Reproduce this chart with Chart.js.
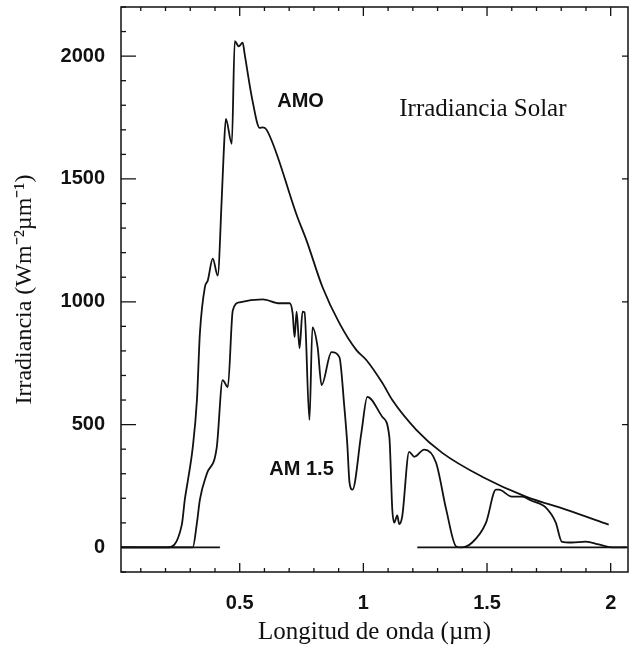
<!DOCTYPE html>
<html>
<head>
  <title>Irradiancia Solar</title>
  <script src="https://cdn.jsdelivr.net/npm/chart.js"></script>
  <style>
    body { margin: 0; background: #fff; }
    #solar-chart { display: block; }
  </style>
</head>
<body>
  <canvas id="solar-chart" width="631" height="651"></canvas>
  <script>
    // Wavelength (um) and irradiance (W m-2 um-1)
    const am0Wl = [0.02, 0.206, 0.266, 0.278, 0.29, 0.31, 0.327, 0.339, 0.359, 0.371, 0.391, 0.411,
      0.427, 0.435, 0.444, 0.468, 0.48, 0.496, 0.512, 0.52, 0.552, 0.581, 0.593, 0.609, 0.734,
      0.77, 0.835, 0.903, 0.972, 1.012, 1.077, 1.117, 1.214, 1.319, 1.48, 1.657, 1.819, 1.992];
    const am0Val = [0, 0, 93, 195, 270, 406, 600, 872, 1059, 1087, 1176, 1107,
      1412, 1600, 1744, 1643, 2061, 2040, 2055, 2008, 1817, 1708, 1710, 1700, 1343,
      1250, 1059, 913, 803, 763, 669, 600, 479, 385, 288, 207, 154, 93];

    const am15Wl = [0.02, 0.31, 0.327, 0.339, 0.367, 0.407, 0.431, 0.452, 0.472, 0.5, 0.593, 0.661,
      0.702, 0.714, 0.722, 0.73, 0.742, 0.754, 0.762, 0.782, 0.794, 0.815, 0.831, 0.871, 0.903,
      0.923, 0.935, 0.944, 0.956, 0.992, 1.016, 1.077, 1.105, 1.117, 1.125, 1.137, 1.145, 1.157,
      1.185, 1.206, 1.246, 1.294, 1.335, 1.375, 1.395, 1.44, 1.496, 1.536, 1.548, 1.6, 1.641,
      1.68, 1.738, 1.778, 1.802, 1.843, 1.899, 1.952, 2.004, 2.065];
    const am15Val = [0, 0, 100, 195, 300, 406, 681, 653, 965, 998, 1010, 994,
      994, 953, 856, 960, 811, 960, 957, 519, 896, 815, 661, 795, 775,
      572, 420, 264, 235, 467, 613, 531, 450, 154, 101, 130, 95, 126,
      389, 369, 398, 345, 154, 4, 0, 20, 101, 235, 235, 207, 207,
      190, 162, 101, 24, 20, 24, 12, 0, 0];

    // zero reference lines drawn in the figure
    const zeroLeftWl = [0.02, 0.42];
    const zeroRightWl = [1.218, 2.065];

    const xTicks = [0.5, 1, 1.5, 2];
    const yTicks = [0, 500, 1000, 1500, 2000];

    const labels = [
      { text: 'AMO', x: 0.746, y: 1817, font: 'bold 20px "Liberation Sans", Arial, sans-serif', align: 'center' },
      { text: 'AM 1.5', x: 0.75, y: 316, font: 'bold 20px "Liberation Sans", Arial, sans-serif', align: 'center' },
      { text: 'Irradiancia Solar', x: 1.145, y: 1785, font: '25px "Liberation Serif", "Times New Roman", serif', align: 'left' }
    ];

    const toPoints = (xs, ys) => xs.map((x, i) => ({ x: x, y: ys[i] }));
    const lineStyle = {
      borderColor: '#111',
      borderWidth: 1.8,
      pointRadius: 0,
      showLine: true,
      fill: false,
      cubicInterpolationMode: 'monotone'
    };

    // frame, inward tick marks on all four sides and the curve labels
    const framePlugin = {
      id: 'frame',
      afterDraw(chart) {
        const ctx = chart.ctx;
        const a = chart.chartArea;
        const xs = chart.scales.x;
        const ys = chart.scales.y;
        ctx.save();
        ctx.strokeStyle = '#111';
        ctx.lineWidth = 1.5;
        ctx.strokeRect(a.left, a.top, a.right - a.left, a.bottom - a.top);

        ctx.lineWidth = 1.3;
        for (let i = 1; i <= 20; i++) {
          const v = i / 10;
          const px = xs.getPixelForValue(v);
          const len = (i % 5 === 0) ? 9 : 4;
          ctx.beginPath();
          ctx.moveTo(px, a.bottom); ctx.lineTo(px, a.bottom - len);
          ctx.moveTo(px, a.top); ctx.lineTo(px, a.top + len);
          ctx.stroke();
        }
        for (let v = -100; v <= 2200; v += 100) {
          const py = ys.getPixelForValue(v);
          const major = v % 500 === 0;
          ctx.beginPath();
          ctx.moveTo(a.left, py); ctx.lineTo(a.left + (major ? 15 : 5), py);
          if (major) { ctx.moveTo(a.right, py); ctx.lineTo(a.right - 6, py); }
          ctx.stroke();
        }

        ctx.fillStyle = '#111';
        ctx.textBaseline = 'middle';
        labels.forEach(l => {
          ctx.font = l.font;
          ctx.textAlign = l.align;
          ctx.fillText(l.text, xs.getPixelForValue(l.x), ys.getPixelForValue(l.y));
        });
        ctx.restore();
      }
    };

    const ctx = document.getElementById('solar-chart').getContext('2d');
    new Chart(ctx, {
      type: 'scatter',
      data: {
        datasets: [
          Object.assign({ label: 'AM0', data: toPoints(am0Wl, am0Val) }, lineStyle),
          Object.assign({ label: 'AM 1.5', data: toPoints(am15Wl, am15Val) }, lineStyle),
          Object.assign({ label: 'cero', data: toPoints(zeroLeftWl, [0, 0]) }, lineStyle),
          Object.assign({ label: 'cero2', data: toPoints(zeroRightWl, [0, 0]) }, lineStyle)
        ]
      },
      options: {
        responsive: false,
        animation: false,
        layout: { padding: { top: 7, right: 3 } },
        plugins: {
          legend: { display: false },
          tooltip: { enabled: false }
        },
        scales: {
          x: {
            type: 'linear',
            min: 0.02,
            max: 2.07,
            afterBuildTicks: scale => { scale.ticks = xTicks.map(v => ({ value: v })); },
            afterFit: scale => {
              scale.height = 79;
              scale.paddingLeft = 0;
              scale.paddingRight = 0;
            },
            grid: { display: false },
            border: { display: false },
            ticks: {
              color: '#111',
              padding: 11,
              font: { family: '"Liberation Sans", Arial, sans-serif', size: 20, weight: 'bold' },
              callback: v => String(v)
            },
            title: {
              display: true,
              text: 'Longitud de onda (\u00b5m)',
              color: '#111',
              padding: { top: 2 },
              font: { family: '"Liberation Serif", "Times New Roman", serif', size: 25 }
            }
          },
          y: {
            type: 'linear',
            min: -100,
            max: 2200,
            afterBuildTicks: scale => { scale.ticks = yTicks.map(v => ({ value: v })); },
            afterFit: scale => {
              scale.width = 121;
              scale.paddingTop = 0;
              scale.paddingBottom = 0;
            },
            grid: { display: false },
            border: { display: false },
            ticks: {
              color: '#111',
              padding: 8,
              font: { family: '"Liberation Sans", Arial, sans-serif', size: 20, weight: 'bold' },
              callback: v => String(v)
            },
            title: {
              display: true,
              text: 'Irradiancia (Wm\u207b\u00b2\u00b5m\u207b\u00b9)',
              color: '#111',
              padding: { top: 10, bottom: 0 },
              font: { family: '"Liberation Serif", "Times New Roman", serif', size: 24 }
            }
          }
        }
      },
      plugins: [framePlugin]
    });
  </script>
</body>
</html>
